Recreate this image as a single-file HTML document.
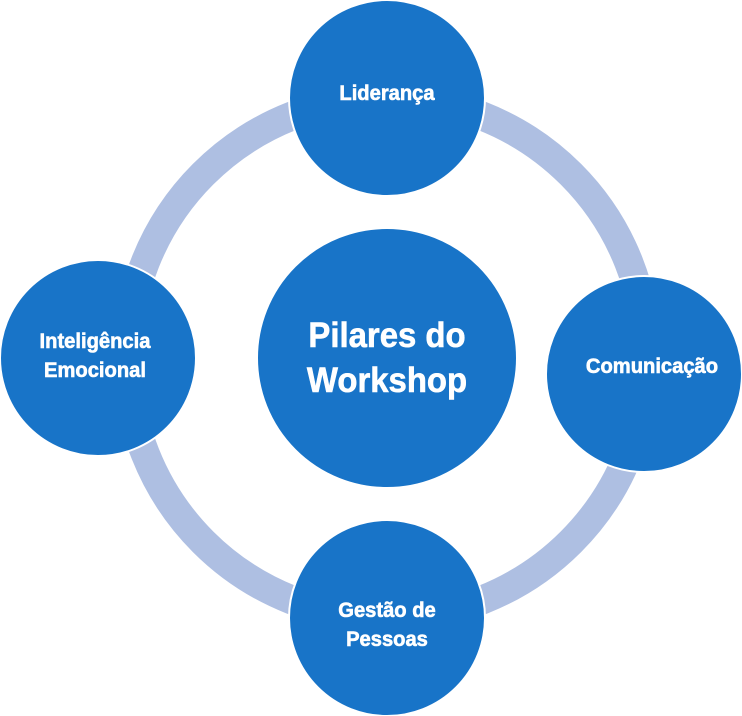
<!DOCTYPE html>
<html><head><meta charset="utf-8"><style>
html,body{margin:0;padding:0;background:#fff;}
svg{display:block;}
text{font-family:"Liberation Sans",sans-serif;font-weight:bold;fill:#fff;stroke:#fff;stroke-width:0.6;text-anchor:middle;}
</style></head><body>
<svg width="742" height="716" viewBox="0 0 742 716">
<circle cx="387" cy="358" r="260" fill="none" stroke="#aebfe2" stroke-width="29"/>
<g fill="#1874c8" stroke="#fff" stroke-width="2">
<circle cx="387" cy="358" r="130"/>
<circle cx="387" cy="98" r="98"/>
<circle cx="98" cy="358" r="98"/>
<circle cx="644" cy="374" r="98"/>
<circle cx="387" cy="618" r="98"/>
</g>
<g transform="translate(387,0) scale(0.96,1)"><text x="0" y="100" font-size="21">Liderança</text></g>
<g transform="translate(95,0) scale(0.96,1)"><text x="0" y="348" font-size="21">Inteligência</text><text x="0" y="377" font-size="21">Emocional</text></g>
<g transform="translate(652,0) scale(0.96,1)"><text x="0" y="373" font-size="21">Comunicação</text></g>
<g transform="translate(387,0) scale(0.96,1)"><text x="0" y="617" font-size="21">Gestão de</text><text x="0" y="646" font-size="21">Pessoas</text></g>
<g transform="translate(387,0) scale(0.94,1)"><text x="0" y="347" font-size="35">Pilares do</text><text x="0" y="392" font-size="35">Workshop</text></g>
</svg>
</body></html>
